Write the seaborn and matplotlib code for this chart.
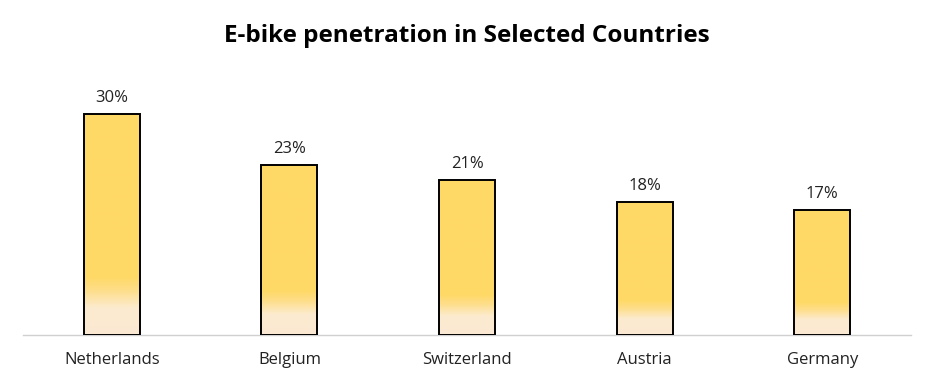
import numpy as np
import matplotlib
matplotlib.use("Agg")
import matplotlib.pyplot as plt
import seaborn as sns
from matplotlib.colors import LinearSegmentedColormap

countries = ["Netherlands", "Belgium", "Switzerland", "Austria", "Germany"]
penetration = [30, 23, 21, 18, 17]
value_labels = ["30%", "23%", "21%", "18%", "17%"]

sns.set_style("white")
plt.rcParams['font.family'] = ['Open Sans', 'DejaVu Sans']

fig = plt.figure(figsize=(9.34, 3.84), dpi=100)
ax = fig.add_axes([0.0246, 0.1276, 0.9508, 0.672])

sns.barplot(x=countries, y=penetration, color="#FFD966", width=0.315,
            edgecolor="black", linewidth=1.4, ax=ax, saturation=1)

# gradient fill: solid gold for most of the bar, pale cream near the base
cmap = LinearSegmentedColormap.from_list(
    "fade", [(0.0, "#FBE8D3"), (0.12, "#FCEBCF"), (0.20, "#FEDE8A"), (0.26, "#FFD966"), (1.0, "#FFD966")])
grad = np.linspace(0, 1, 256).reshape(-1, 1)
for p in ax.patches:
    x0, y0 = p.get_x(), p.get_y()
    w, h = p.get_width(), p.get_height()
    im = ax.imshow(grad, cmap=cmap, aspect="auto", origin="lower",
                   extent=[x0, x0 + w, y0, y0 + h], zorder=p.get_zorder() - 0.1)
    im.set_clip_path(p)
    p.set_facecolor("none")
    p.set_zorder(3)

for i, v in enumerate(penetration):
    ax.text(i, v + 1.1, value_labels[i], ha="center", va="bottom", fontsize=12, color="#222222")

ax.set_xlim(-0.5, 4.5)
ax.set_ylim(0, 35)
ax.set_yticks([])
ax.set_ylabel("")
for s in ["top", "right", "left"]:
    ax.spines[s].set_visible(False)
ax.spines["bottom"].set_color("#D0D0D0")
ax.spines["bottom"].set_linewidth(1)
ax.tick_params(axis="x", length=0, pad=12, labelsize=12, labelcolor="#222222")

fig.text(0.5, 0.905, "E-bike penetration in Selected Countries", ha="center", va="center",
         fontsize=17.5, fontweight="bold", color="black")

fig.savefig("out.png", dpi=100)
